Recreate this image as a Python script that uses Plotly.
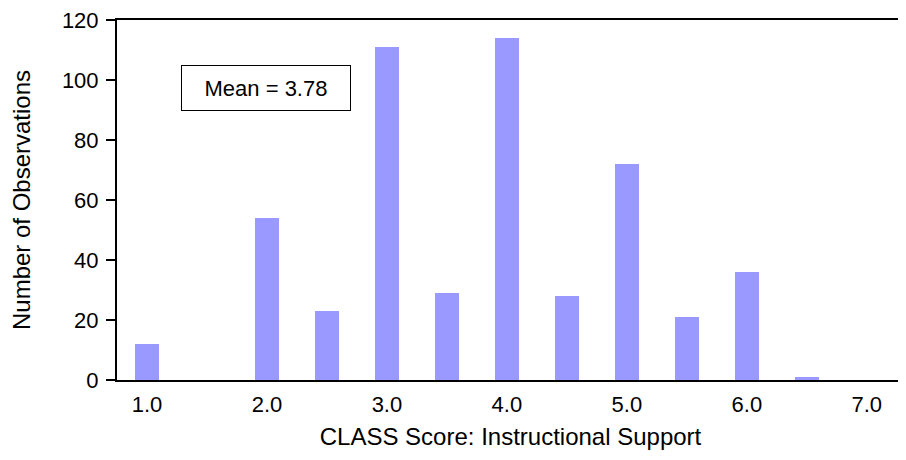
import plotly.graph_objects as go

scores = [1.0, 1.5, 2.0, 2.5, 3.0, 3.5, 4.0, 4.5, 5.0, 5.5, 6.0, 6.5, 7.0]
counts = [12, 0, 54, 23, 111, 29, 114, 28, 72, 21, 36, 1, 0]
tick_vals = [1, 2, 3, 4, 5, 6, 7]
tick_text = ["1.0", "2.0", "3.0", "4.0", "5.0", "6.0", "7.0"]
mean_label = "Mean = 3.78"

FONT = "Liberation Sans, Arial, sans-serif"

fig = go.Figure()
fig.add_trace(go.Bar(x=scores, y=counts, width=0.2, marker=dict(color="#9999FF", line=dict(width=0))))

# page body has an 8px margin, so the figure is 898x452 placed at (8,8)
fig.update_layout(
    width=898, height=452,
    margin=dict(l=109, r=2, t=12, b=80, autoexpand=False),
    paper_bgcolor="white", plot_bgcolor="white",
    showlegend=False,
    font=dict(family=FONT, size=22, color="black"),
    bargap=0,
)
fig.update_xaxes(
    range=[0.75, 7.31], tickvals=tick_vals, ticktext=tick_text,
    showline=True, linecolor="black", linewidth=2, mirror=True,
    ticks="", showgrid=False, zeroline=False, automargin=False,
    tickfont=dict(size=22), ticklabelstandoff=4,
    title=dict(text="CLASS Score: Instructional Support", font=dict(size=24), standoff=12),
)
fig.update_yaxes(
    range=[0, 120], dtick=20, tick0=0,
    showline=True, linecolor="black", linewidth=2, mirror=True,
    ticks="outside", ticklen=9, tickwidth=2, tickcolor="black",
    showgrid=False, zeroline=False, automargin=False,
    tickfont=dict(size=22), ticklabeloverflow="allow", ticklabelstandoff=3,
    title=dict(text="Number of Observations", font=dict(size=24), standoff=24),
)
fig.add_annotation(
    x=1.99, y=97.3, xref="x", yref="y", text=mean_label, showarrow=False,
    font=dict(size=22, family=FONT, color="black"),
    bordercolor="black", borderwidth=1, borderpad=0, width=168, height=44,
    bgcolor="white",
)
fig.write_html("out.html")
